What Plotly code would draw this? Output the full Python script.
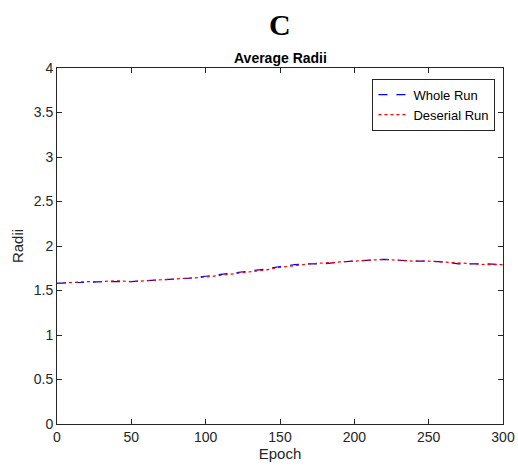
import plotly.graph_objects as go

epochs = list(range(0, 301, 10))
whole_run = [1.58, 1.59, 1.59, 1.60, 1.60, 1.60, 1.61, 1.62, 1.63, 1.64,
             1.66, 1.68, 1.70, 1.72, 1.74, 1.77, 1.79, 1.80, 1.80, 1.82,
             1.83, 1.84, 1.85, 1.84, 1.83, 1.83, 1.82, 1.80, 1.80, 1.80, 1.79]
deserial_run = [1.58, 1.59, 1.60, 1.60, 1.61, 1.60, 1.61, 1.62, 1.63, 1.64,
                1.65, 1.67, 1.69, 1.71, 1.73, 1.76, 1.78, 1.80, 1.81, 1.82,
                1.83, 1.84, 1.85, 1.84, 1.83, 1.83, 1.82, 1.81, 1.80, 1.79, 1.79]
x_ticks = [0, 50, 100, 150, 200, 250, 300]
y_ticks = [0, 0.5, 1, 1.5, 2, 2.5, 3, 3.5, 4]
y_labels = ["0", "0.5", "1", "1.5", "2", "2.5", "3", "3.5", "4"]

fig = go.Figure()
fig.add_trace(go.Scatter(x=epochs, y=whole_run, mode="lines", name="Whole Run",
                         line=dict(color="blue", width=1.2, dash="dash")))
fig.add_trace(go.Scatter(x=epochs, y=deserial_run, mode="lines", name="Deserial Run",
                         line=dict(color="red", width=1.2, dash="dot")))

font = "Liberation Sans, Arial, sans-serif"
axis_common = dict(showline=True, mirror="ticks", linecolor="#262626", linewidth=1,
                   ticks="inside", ticklen=5, tickcolor="#262626", showgrid=False,
                   zeroline=False, automargin=False,
                   tickfont=dict(family=font, size=14, color="#262626"))

fig.update_layout(
    width=518, height=472,
    margin=dict(l=57, r=15, t=68, b=48),
    paper_bgcolor="white", plot_bgcolor="white",
    font=dict(family=font, color="#262626"),
    showlegend=True,
    legend=dict(x=0.983, y=0.97, xanchor="right", yanchor="top",
                bordercolor="#262626", borderwidth=1, bgcolor="white",
                font=dict(family=font, size=13, color="black"),
                tracegroupgap=0, itemwidth=30),
    xaxis=dict(range=[0, 300], tickvals=x_ticks,
               title=dict(text="Epoch", font=dict(family=font, size=15), standoff=4),
               **axis_common),
    yaxis=dict(range=[0, 4], tickvals=y_ticks, ticktext=y_labels,
               title=dict(text="Radii", font=dict(family=font, size=15), standoff=6),
               **axis_common),
    annotations=[
        dict(text="<b>C</b>", x=0.5, y=1.0, xref="paper", yref="paper",
             yanchor="bottom", yshift=25, showarrow=False,
             font=dict(family="Liberation Serif, Times New Roman, serif", size=30, color="black")),
        dict(text="<b>Average Radii</b>", x=0.5, y=1.0, xref="paper", yref="paper",
             yanchor="bottom", yshift=0, showarrow=False,
             font=dict(family=font, size=14, color="black")),
    ],
)

fig.write_html("out.html")
